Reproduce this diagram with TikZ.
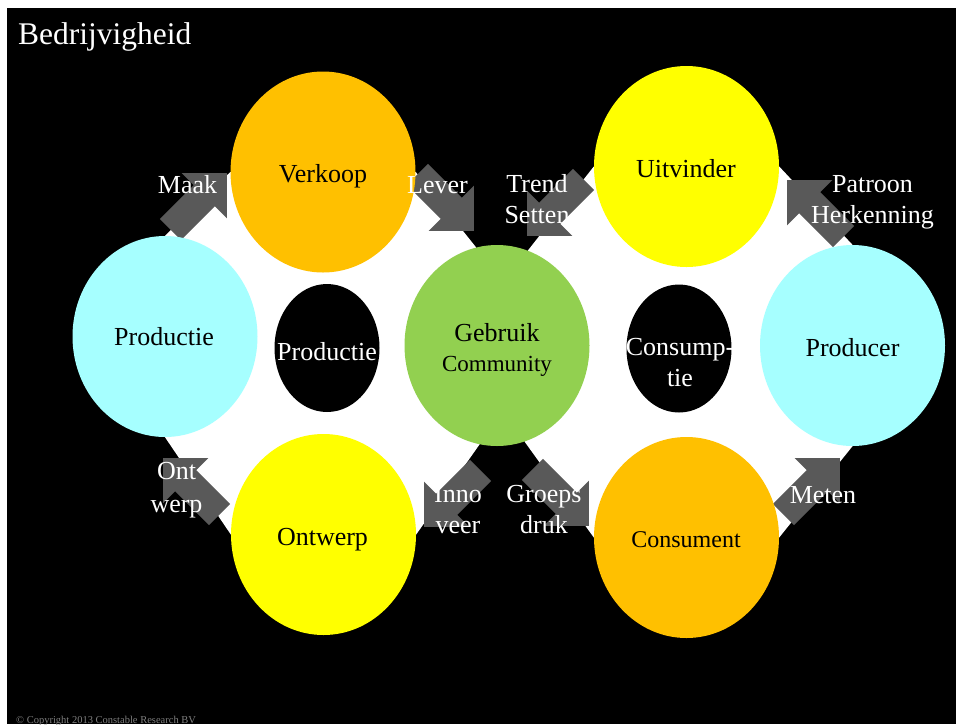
\documentclass[tikz,border=0pt]{standalone}
\usepackage{fontspec}
\setmainfont{Liberation Serif}
\usetikzlibrary{shapes.geometric,backgrounds}
\definecolor{orangeC}{HTML}{FFC000}
\definecolor{yellowC}{HTML}{FFFF00}
\definecolor{cyanC}{HTML}{A6FFFF}
\definecolor{greenC}{HTML}{92D050}
\definecolor{arrowC}{HTML}{595959}
\definecolor{noteC}{HTML}{7F7F7F}

\begin{document}
\begin{tikzpicture}[x=1pt,y=-1pt,
	bub/.style={ellipse,inner sep=0,minimum width=185,minimum height=201},
	hole/.style={ellipse,fill=black,inner sep=0,minimum width=105,minimum height=128},
	dark/.style={text=black,font=\fontsize{26}{31}\selectfont,align=center,inner sep=0,anchor=base},
	light/.style={text=white,font=\fontsize{26}{31}\selectfont,align=center,inner sep=0,anchor=base},
	barrow/.pic={\fill[arrowC] (-40,-15) -- (8,-15) -- (8,-32) -- (40,0) -- (8,32) -- (8,15) -- (-40,15) -- cycle;}]
	\useasboundingbox (0,0) rectangle (956,724);
	\pic[rotate=45] at (198.7,201.3) {barrow};
	\pic[rotate=-45] at (445.7,202.7) {barrow};
	\pic[rotate=-135] at (555.3,207.7) {barrow};
	\pic[rotate=135] at (815.3,208.3) {barrow};
	\pic[rotate=45] at (811.7,486.3) {barrow};
	\pic[rotate=-45] at (560.7,497.7) {barrow};
	\pic[rotate=-135] at (452.3,498.7) {barrow};
	\pic[rotate=135] at (191.3,486.3) {barrow};
	\node[bub,fill=cyanC] (productie) at (165,336.5) {};
	\node[bub,fill=orangeC] (verkoop) at (323,172) {};
	\node[bub,fill=greenC] (gebruik) at (497,345.5) {};
	\node[bub,fill=yellowC] (ontwerp) at (323.5,534.5) {};
	\node[bub,fill=yellowC] (uitvinder) at (686.5,166.5) {};
	\node[bub,fill=cyanC] (producer) at (852.5,345.5) {};
	\node[bub,fill=orangeC] (consument) at (686.5,537.5) {};
	\node[hole] (holeL) at (327,348) {};
	\node[hole] (holeR) at (679,348.5) {};
	\begin{scope}[on background layer]
		\fill[white] (0,0) rectangle (956,724);
		\fill[black] (7,8) rectangle (956,724);
		\fill[white] (productie.north) -- (verkoop.west) -- (verkoop.east) -- (gebruik.102) -- (gebruik.260) -- (ontwerp.east) -- (ontwerp.west) -- (productie.south) -- cycle;
		\fill[white] (gebruik.72) -- (uitvinder.west) -- (uitvinder.east) -- (producer.north) -- (producer.south) -- (consument.east) -- (consument.west) -- (gebruik.-74) -- cycle;
	\end{scope}
	\node[light,anchor=base west,font=\fontsize{31.5}{37}\selectfont] (title) at (18,44) {Bedrijvigheid};
	\node[dark] (tVerkoop) at (323,182) {Verkoop};
	\node[dark] (tProductie) at (164,345) {Productie};
	\node[light] (tHoleL) at (327,360) {Productie};
	\node[dark] (tGebruik) at (497,341) {Gebruik};
	\node[dark,font=\fontsize{23}{28}\selectfont] (tCommunity) at (497,371) {Community};
	\node[dark] (tOntwerp) at (322.5,545) {Ontwerp};
	\node[dark] (tUitvinder) at (686,177) {Uitvinder};
	\node[dark] (tProducer) at (852.5,356) {Producer};
	\node[dark,font=\fontsize{24}{29}\selectfont] (tConsument) at (686,547) {Consument};
	\node[light] (tHoleR) at (680,386) {Consump-\\tie};
	\node[light] (tMaak) at (187.5,193) {Maak};
	\node[light] (tLever) at (437.5,193) {Lever};
	\node[light] (tTrend) at (537,223) {Trend\\Setten};
	\node[light] (tPatroon) at (872.5,223) {Patroon\\Herkenning};
	\node[light] (tMeten) at (823,503) {Meten};
	\node[light] (tGroeps) at (544,533) {Groeps\\druk};
	\node[light] (tInno) at (458,533) {Inno\\veer};
	\node[light,font=\fontsize{26}{33}\selectfont] (tOnt) at (176.5,512) {Ont\\werp};
	\node[text=noteC,anchor=base west,inner sep=0,font=\fontsize{10.5}{12}\selectfont] (copy) at (16,723) {© Copyright 2013 Constable Research BV};
\end{tikzpicture}
\end{document}
